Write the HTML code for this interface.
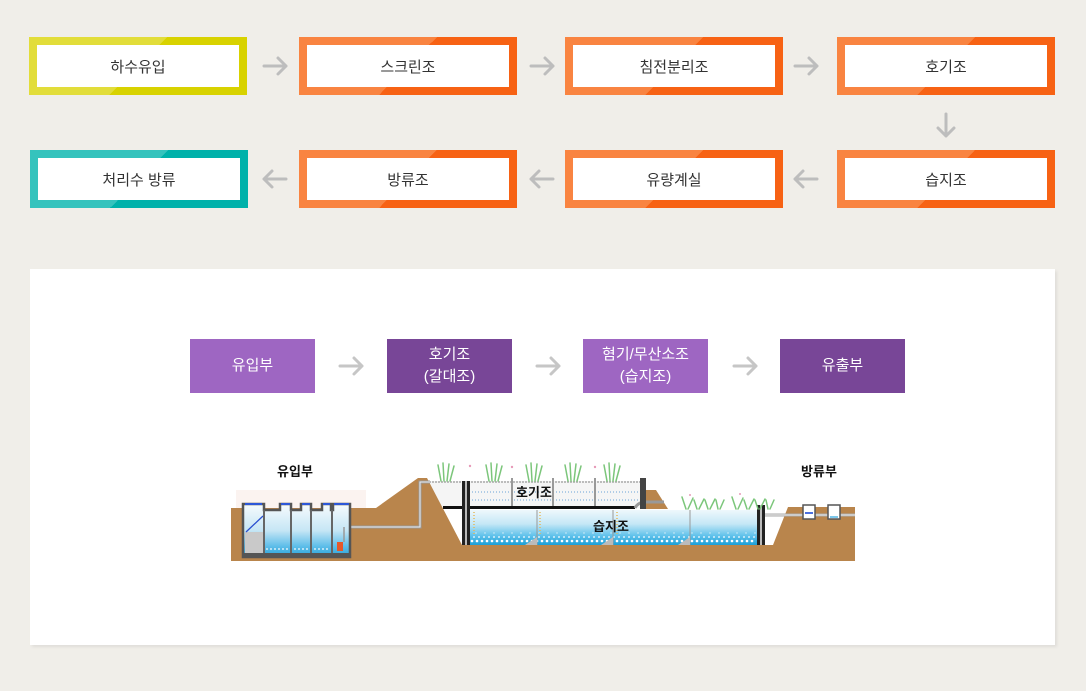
<!DOCTYPE html>
<html><head><meta charset="utf-8"><style>
html,body{margin:0;padding:0}
body{width:1086px;height:691px;background:#f0eee9;position:relative;overflow:hidden;font-family:"Liberation Sans","Noto Sans CJK KR",sans-serif}
.b{position:absolute;width:218px;height:58px;box-sizing:border-box}
.b .in{position:absolute;left:8px;top:8px;right:8px;bottom:8px;background:#fff;display:flex;align-items:center;justify-content:center;font-size:15px;color:#333}
.o{background:linear-gradient(135deg,#f98441 50%,#f76214 50%)}
.y{background:linear-gradient(135deg,#e2dd3a 50%,#d8d200 50%)}
.t{background:linear-gradient(135deg,#35c3bd 50%,#00b1aa 50%)}
.panel{position:absolute;left:30px;top:269px;width:1025px;height:376px;background:#fff;box-shadow:2px 2px 3px rgba(0,0,0,0.07)}
.p{position:absolute;top:339px;width:125px;height:54px;display:flex;align-items:center;justify-content:center;text-align:center;color:#fff;font-size:15px;line-height:22px}
.pl{background:#9e66c2}
.pd{background:#784697}
</style></head><body>
<div class="b y" style="left:29px;top:37px"><div class="in">하수유입</div></div>
<div class="b o" style="left:299px;top:37px"><div class="in">스크린조</div></div>
<div class="b o" style="left:565px;top:37px"><div class="in">침전분리조</div></div>
<div class="b o" style="left:837px;top:37px"><div class="in">호기조</div></div>
<div class="b t" style="left:30px;top:150px"><div class="in">처리수 방류</div></div>
<div class="b o" style="left:299px;top:150px"><div class="in">방류조</div></div>
<div class="b o" style="left:565px;top:150px"><div class="in">유량계실</div></div>
<div class="b o" style="left:837px;top:150px"><div class="in">습지조</div></div>
<div class="panel"></div>
<div class="p pl" style="left:190px">유입부</div>
<div class="p pd" style="left:387px">호기조<br>(갈대조)</div>
<div class="p pl" style="left:583px">혐기/무산소조<br>(습지조)</div>
<div class="p pd" style="left:780px">유출부</div>
<svg width="1086" height="691" style="position:absolute;left:0;top:0" xmlns="http://www.w3.org/2000/svg">
<defs>
<linearGradient id="wat" x1="0" y1="0" x2="0" y2="1">
<stop offset="0" stop-color="#eef8fc"/><stop offset="0.4" stop-color="#c4e7f6"/><stop offset="0.75" stop-color="#5cc0ea"/><stop offset="1" stop-color="#1a9fd8"/>
</linearGradient>
<linearGradient id="tw" x1="0" y1="0" x2="0" y2="1">
<stop offset="0" stop-color="#f7fbfd"/><stop offset="0.5" stop-color="#c6e6f5"/><stop offset="0.8" stop-color="#5dbde9"/><stop offset="1" stop-color="#2aa3d9"/>
</linearGradient>
</defs>
<g fill="none" stroke="#bdbdbd" stroke-width="3" stroke-linecap="round" stroke-linejoin="round">
<path d="M264 66H286M278 58L286 66L278 74"/>
<path d="M531 66H553M545 58L553 66L545 74"/>
<path d="M795 66H817M809 58L817 66L809 74"/>
<path d="M946 114V136M938 128L946 136L954 128"/>
<path d="M264 179H286M272 171L264 179L272 187"/>
<path d="M531 179H553M539 171L531 179L539 187"/>
<path d="M795 179H817M803 171L795 179L803 187"/>
</g>
<g fill="none" stroke="#c6c6c6" stroke-width="3" stroke-linecap="round" stroke-linejoin="round">
<path d="M340 366H362M354 358L362 366L354 374"/>
<path d="M537 366H559M551 358L559 366L551 374"/>
<path d="M734 366H756M748 358L756 366L748 374"/>
</g>
<!-- illustration -->
<rect x="236" y="490" width="130" height="18" fill="#fbf3f0"/>
<rect x="426" y="481" width="214" height="27" fill="#f5f5f5"/>
<line x1="426" y1="482" x2="640" y2="482" stroke="#aaa" stroke-width="1.5" stroke-dasharray="2 1"/>
<line x1="472" y1="492" x2="640" y2="492" stroke="#6aa3d6" stroke-width="1" stroke-dasharray="1 2"/>
<line x1="472" y1="500" x2="640" y2="500" stroke="#6aa3d6" stroke-width="1" stroke-dasharray="1 2"/>
<rect x="470" y="510" width="287" height="35" fill="url(#wat)"/>
<g stroke="#fff" stroke-width="2.6" stroke-linecap="round" stroke-dasharray="0 5">
<line x1="472" y1="541" x2="756" y2="541"/>
<line x1="474" y1="537" x2="756" y2="537" stroke-width="1.8"/>
<line x1="476" y1="533" x2="756" y2="533" stroke-width="1.2" stroke-dasharray="0 9"/>
</g>
<g stroke="#999" stroke-width="1"><line x1="537" y1="510" x2="537" y2="545"/><line x1="613" y1="510" x2="613" y2="545"/><line x1="690" y1="510" x2="690" y2="545"/></g>
<g stroke="#e6b85a" stroke-width="1.5" stroke-dasharray="1 2"><line x1="474" y1="512" x2="474" y2="535"/><line x1="540" y1="512" x2="540" y2="535"/><line x1="617" y1="512" x2="617" y2="535"/></g>
<g fill="#bbb"><polygon points="525,545 537,537 537,545"/><polygon points="601,545 613,537 613,545"/><polygon points="678,545 690,537 690,545"/></g>
<!-- ground -->
<polygon points="231,508 376,508 418,478 427,478 462,545 773,545 788,507 855,507 855,561 231,561" fill="#b9854c"/>
<polygon points="646,490 656,490 668,509 646,509" fill="#b9854c"/>
<!-- upper posts -->
<g stroke="#999" stroke-width="2"><line x1="512" y1="478" x2="512" y2="507"/><line x1="553" y1="478" x2="553" y2="507"/><line x1="595" y1="478" x2="595" y2="507"/></g>
<rect x="443" y="506" width="192" height="3" fill="#111"/>
<path d="M635 508Q638 502 646 502H664" fill="none" stroke="#999" stroke-width="3"/>
<rect x="640" y="478" width="6" height="31" fill="#444"/>
<rect x="462" y="481" width="3" height="64" fill="#222"/>
<rect x="465" y="481" width="2" height="64" fill="#bbb"/>
<rect x="467" y="481" width="3" height="64" fill="#222"/>
<rect x="757" y="505" width="3" height="40" fill="#222"/>
<rect x="760" y="505" width="2" height="40" fill="#bbb"/>
<rect x="762" y="505" width="3" height="40" fill="#222"/>
<!-- plants -->
<g stroke="#7cc67b" stroke-width="1.5" fill="none" stroke-linecap="round">
<path d="M441 481L438 465M444 481L443 463M447 481L449 464M450 481L454 466"/>
<path d="M489 481L486 465M492 481L491 463M495 481L497 464M498 481L502 466"/>
<path d="M529 481L526 465M532 481L531 463M535 481L537 464M538 481L542 466"/>
<path d="M568 481L565 465M571 481L570 463M574 481L576 464M577 481L581 466"/>
<path d="M607 481L604 465M610 481L609 463M613 481L615 464M616 481L620 466"/>
<path d="M686 509L682 497M688 509L693 498M697 509L694 500M699 509L704 499M708 509L705 500M710 509L715 499M718 509L716 500M720 509L724 500"/>
<path d="M736 509L732 497M738 509L743 498M747 509L744 500M749 509L754 499M758 509L755 500M760 509L765 499M768 509L766 500M770 509L774 500"/>
</g>
<g fill="#e79ab8"><circle cx="470" cy="466" r="1.2"/><circle cx="512" cy="467" r="1.2"/><circle cx="595" cy="467" r="1.2"/><circle cx="690" cy="495" r="1"/><circle cx="740" cy="494" r="1"/></g>
<!-- left pipe -->
<path d="M345 527H420V482H430" fill="none" stroke="#999" stroke-width="3"/>
<path d="M345 527H420V482H430" fill="none" stroke="#eee" stroke-width="1"/>
<!-- left tank -->
<path d="M243 557V504H264V510H280V504H291V510H301V504H311V510H322V504H331V510H333V504H350V557Z" fill="url(#tw)" stroke="#555" stroke-width="2.5"/>
<rect x="245" y="532" width="19" height="22" fill="#c9c9c9"/>
<line x1="246" y1="532" x2="263" y2="516" stroke="#2a4fd0" stroke-width="1.3"/>
<g stroke="#fff" stroke-width="1.8" stroke-linecap="round" stroke-dasharray="0 4"><line x1="267" y1="549" x2="330" y2="549"/></g>
<g stroke="#666" stroke-width="2"><line x1="264" y1="510" x2="264" y2="555"/><line x1="291" y1="510" x2="291" y2="555"/><line x1="311" y1="510" x2="311" y2="555"/><line x1="332" y1="510" x2="332" y2="555"/></g>
<rect x="243" y="553" width="108" height="4" fill="#555"/>
<g stroke="#2d57d8" stroke-width="2"><line x1="245" y1="504" x2="262" y2="504"/><line x1="281" y1="504" x2="290" y2="504"/><line x1="302" y1="504" x2="310" y2="504"/><line x1="323" y1="504" x2="330" y2="504"/><line x1="334" y1="504" x2="349" y2="504"/></g>
<rect x="337" y="542" width="6" height="9" fill="#e5582a"/>
<line x1="344" y1="527" x2="344" y2="542" stroke="#999" stroke-width="1.5"/>
<!-- right tanks and pipe -->
<line x1="765" y1="515" x2="855" y2="515" stroke="#aaa" stroke-width="3"/>
<line x1="765" y1="515" x2="855" y2="515" stroke="#eee" stroke-width="1"/>
<rect x="803" y="505" width="12" height="14" fill="#fff" stroke="#555" stroke-width="1.5"/>
<line x1="805" y1="513" x2="813" y2="513" stroke="#4a6fe0" stroke-width="2"/>
<rect x="828" y="505" width="12" height="14" fill="#fff" stroke="#555" stroke-width="1.5"/>
<line x1="830" y1="517" x2="838" y2="517" stroke="#7cc7ea" stroke-width="2"/>
<g font-family="Liberation Sans, Noto Sans CJK KR, sans-serif" font-size="13" font-weight="bold" fill="#111" text-anchor="middle">
<text x="295" y="476">유입부</text>
<text x="819" y="476">방류부</text>
<text x="534" y="497">호기조</text>
<text x="611" y="531">습지조</text>
</g>
</svg>
</body></html>
